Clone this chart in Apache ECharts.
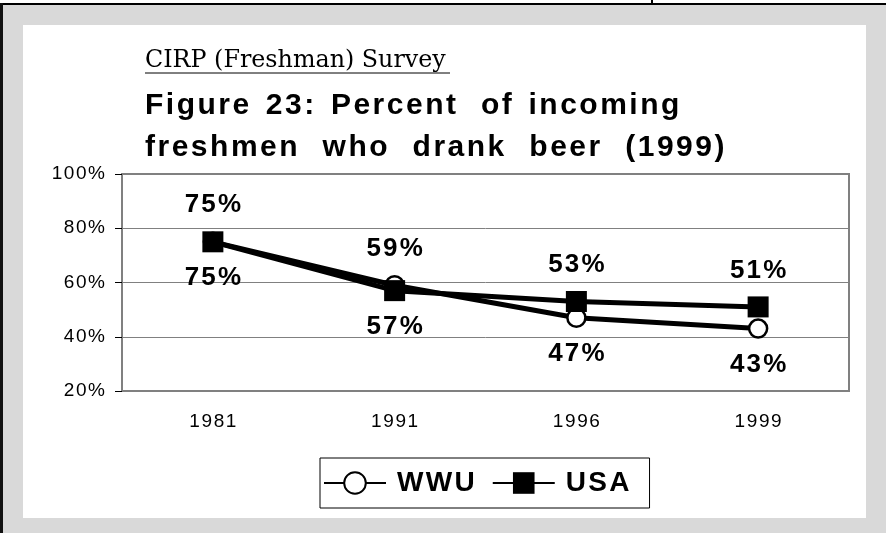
<!DOCTYPE html>
<html>
<head>
<meta charset="utf-8">
<script src="https://cdn.jsdelivr.net/npm/echarts@6/dist/echarts.min.js"></script>
<style>
  html, body { margin: 0; padding: 0; background: #fff; }
  #chart { width: 886px; height: 533px; }
</style>
</head>
<body>
<div id="chart"></div>
<script>
// data
const years = ['1981', '1991', '1996', '1999'];
const wwu = [75, 59, 47, 43];
const usa = [75, 57, 53, 51];
const yTicks = [20, 40, 60, 80, 100];

// the original text is drawn a bit letter-spaced, a hair space between chars does it
const spaced = s => String(s).split('').join('\u200A');

// of the two points in a year the higher one gets its label on top
function withLabels(mine, other, winsTie) {
  return mine.map((v, i) => {
    const up = v > other[i] || (v === other[i] && winsTie);
    return { value: v, label: { position: up ? 'top' : 'bottom' } };
  });
}

const labelStyle = {
  show: true,
  distance: 13,
  fontFamily: 'Liberation Sans',
  fontWeight: 'bold',
  fontSize: 26,
  color: '#000',
  formatter: p => spaced(p.value + '%')
};

// justified title in the original: spread letters, wide gaps between words
const line1 = ['Figure', '23:', 'Percent', 'of', 'incoming'].map(spaced);
const line2 = ['freshmen', 'who', 'drank', 'beer', '(1999)'].map(spaced);
const titleText = line1[0] + '  ' + line1[1] + '  ' + line1[2] + '   ' + line1[3] + '  ' + line1[4] +
  '\n' + line2.join('   ');

const chart = echarts.init(document.getElementById('chart'));
const option = {
  backgroundColor: '#d9d9d9',
  animation: false,
  graphic: [
    { type: 'rect', z: -10, shape: { x: 0, y: 0, width: 886, height: 3 }, style: { fill: '#fff' } },
    { type: 'rect', z: -10, shape: { x: 0, y: 3, width: 886, height: 2 }, style: { fill: '#000' } },
    { type: 'rect', z: -10, shape: { x: 651, y: 0, width: 2, height: 4 }, style: { fill: '#000' } },
    { type: 'rect', z: -10, shape: { x: 0, y: 3, width: 3, height: 530 }, style: { fill: '#111' } },
    { type: 'rect', z: -10, shape: { x: 23, y: 25, width: 843, height: 493 }, style: { fill: '#fff' } },
    { type: 'line', z: 10, shape: { x1: 145, y1: 73, x2: 450, y2: 73 }, style: { stroke: '#000', lineWidth: 1 } }
  ],
  title: [
    {
      text: 'CIRP (Freshman) Survey',
      left: 145, top: 49, padding: 0,
      textStyle: { fontFamily: 'DejaVu Serif', fontWeight: 'normal', fontSize: 23.8, color: '#000' }
    },
    {
      text: titleText,
      left: 145, top: 85, padding: 0,
      textStyle: { fontFamily: 'Liberation Sans', fontWeight: 'bold', fontSize: 30, lineHeight: 42, color: '#000' }
    }
  ],
  legend: {
    data: ['WWU', 'USA'],
    left: 320, top: 458,
    padding: [11, 20, 11, 3],
    borderColor: '#000', borderWidth: 1,
    itemWidth: 62, itemHeight: 27, itemGap: 17,
    formatter: name => spaced(name),
    textStyle: { fontFamily: 'Liberation Sans', fontWeight: 'bold', fontSize: 28, color: '#000', padding: [0, 0, 0, 6] }
  },
  grid: {
    left: 122, right: 37, top: 174, bottom: 142,
    show: true, borderColor: '#808080', borderWidth: 2
  },
  xAxis: {
    type: 'category',
    data: years,
    boundaryGap: true,
    axisLine: { lineStyle: { color: '#808080', width: 2 } },
    axisTick: { length: 6, lineStyle: { color: '#000', width: 1 } },
    axisLabel: { margin: 21, fontFamily: 'Liberation Sans', fontSize: 19, color: '#000', formatter: v => spaced(v) }
  },
  yAxis: {
    type: 'value',
    min: yTicks[0], max: yTicks[yTicks.length - 1], interval: 20,
    axisLine: { show: true, lineStyle: { color: '#808080', width: 2 } },
    axisTick: { show: true, length: 7, lineStyle: { color: '#000', width: 1 } },
    splitLine: { lineStyle: { color: '#808080', width: 1 } },
    axisLabel: { margin: 17, fontFamily: 'Liberation Sans', fontSize: 19, color: '#000', formatter: v => spaced(v + '%') }
  },
  series: [
    {
      name: 'WWU', type: 'line',
      data: withLabels(wwu, usa, false),
      symbol: 'circle', symbolSize: 18,
      lineStyle: { color: '#000', width: 5 },
      itemStyle: { color: '#fff', borderColor: '#000', borderWidth: 2.5 },
      label: labelStyle
    },
    {
      name: 'USA', type: 'line',
      data: withLabels(usa, wwu, true),
      symbol: 'rect', symbolSize: 21,
      lineStyle: { color: '#000', width: 5 },
      itemStyle: { color: '#000' },
      label: labelStyle
    }
  ]
};
chart.setOption(option);
</script>
</body>
</html>
